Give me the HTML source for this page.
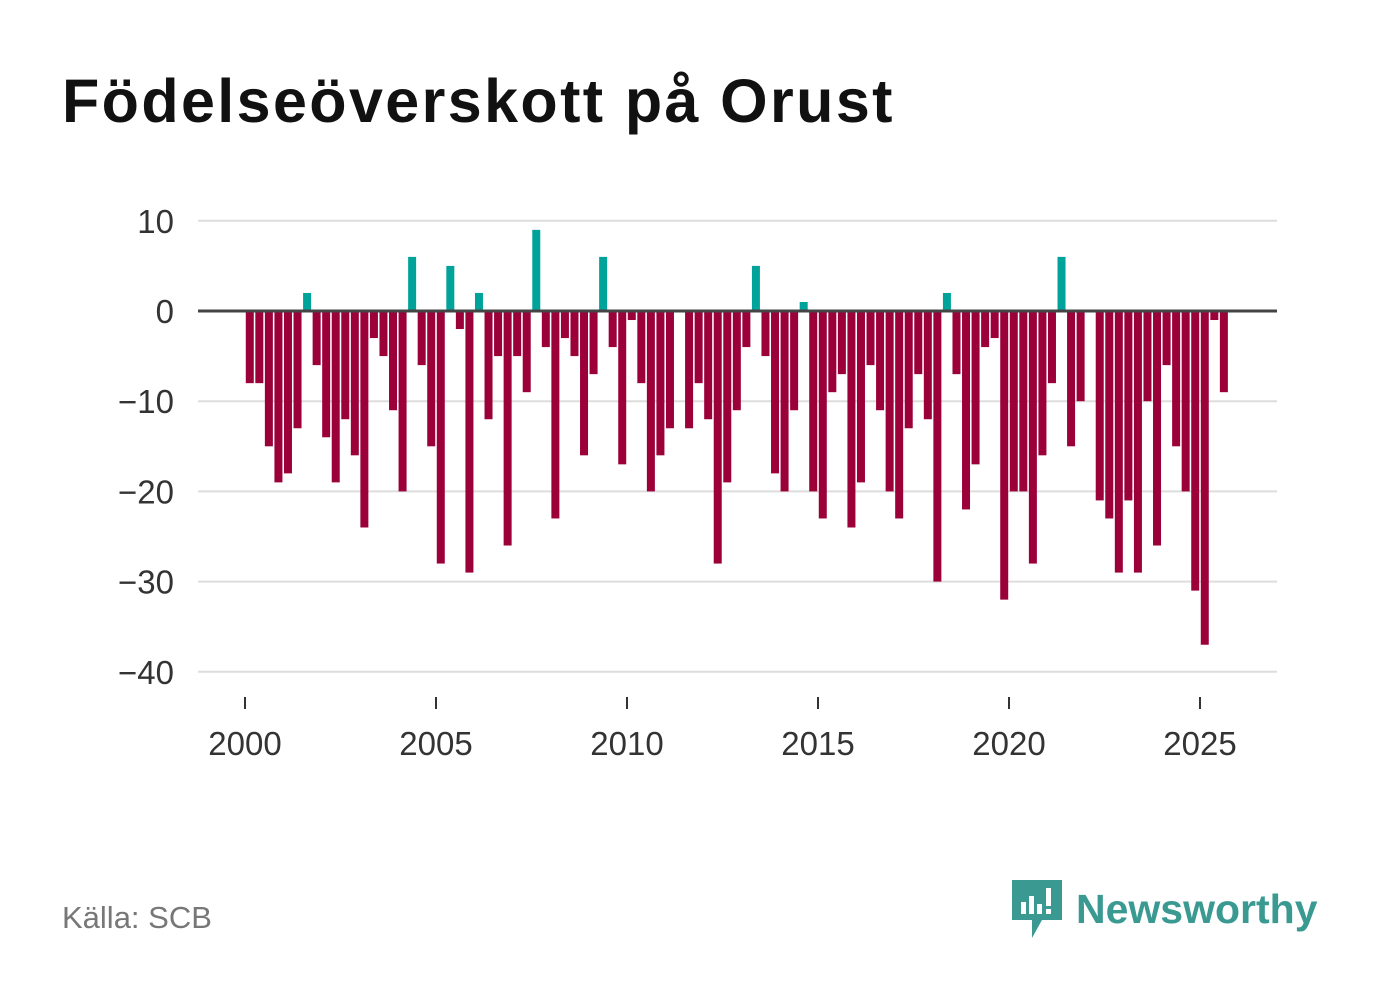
<!DOCTYPE html>
<html><head><meta charset="utf-8">
<style>
body{margin:0;background:#fff;font-family:"Liberation Sans","DejaVu Sans",sans-serif;}
#wrap{position:relative;width:1382px;height:999px;overflow:hidden;}
h1{position:absolute;left:62px;top:66px;margin:0;font-size:61px;font-weight:bold;color:#111;letter-spacing:2.4px;}
.src{position:absolute;left:62px;top:900px;font-size:31px;color:#777;}
.logo{position:absolute;left:1012px;top:880px;display:flex;align-items:center;}
.logo span{font-size:41px;font-weight:bold;color:#3a9a92;margin-left:14px;}
</style></head><body>
<div id="wrap">
<h1>Födelseöverskott på Orust</h1>
<svg id="chart" width="1382" height="999" style="position:absolute;left:0;top:0"></svg>
<div class="src">Källa: SCB</div>
<div class="logo">
<svg width="50" height="58" viewBox="0 0 50 58"><path d="M0 0H50V40H30L20 58V40H0Z" fill="#3a9a92"/><rect x="9" y="22" width="5" height="12" fill="#fff"/><rect x="17" y="16" width="5" height="18" fill="#fff"/><rect x="25" y="24" width="5" height="10" fill="#fff"/><rect x="34" y="8" width="5" height="18" fill="#fff"/><rect x="34" y="29" width="5" height="5" fill="#fff"/></svg>
<span>Newsworthy</span></div>
</div>
<script>
const values=[-8,-8,-15,-19,-18,-13,2,-6,-14,-19,-12,-16,-24,-3,-5,-11,-20,6,-6,-15,-28,5,-2,-29,2,-12,-5,-26,-5,-9,9,-4,-23,-3,-5,-16,-7,6,-4,-17,-1,-8,-20,-16,-13,0,-13,-8,-12,-28,-19,-11,-4,5,-5,-18,-20,-11,1,-20,-23,-9,-7,-24,-19,-6,-11,-20,-23,-13,-7,-12,-30,2,-7,-22,-17,-4,-3,-32,-20,-20,-28,-16,-8,6,-15,-10,0,-21,-23,-29,-21,-29,-10,-26,-6,-15,-20,-31,-37,-1,-9];
const startYear=2000;
const yTicks=[10,0,-10,-20,-30,-40];
const xTicks=[2000,2005,2010,2015,2020,2025];
const NS="http://www.w3.org/2000/svg";
const svg=document.getElementById('chart');
function xs(t){return 245+(t-2000)*38.2;}
function ys(v){return 311-v*9.02;}
function mk(tag,attrs){const e=document.createElementNS(NS,tag);for(const k in attrs)e.setAttribute(k,attrs[k]);svg.appendChild(e);return e;}
yTicks.forEach(v=>{
 if(v!==0){const l=mk('line',{x1:198,x2:1277,y1:ys(v),y2:ys(v),stroke:'#ddd','stroke-width':2});
 
 }
 const t=mk('text',{x:174,y:ys(v)+12,'text-anchor':'end','font-size':33,fill:'#333','font-family':'Liberation Sans, DejaVu Sans, sans-serif'});
 t.textContent=v<0?'\u2212'+(-v):String(v);
 
 
});
values.forEach((v,i)=>{
 const t=startYear+(i+0.5)/4;
 const y0=ys(0),y1=ys(v);
 const r=mk('rect',{x:xs(t)-4,y:Math.min(y0,y1),width:8,height:Math.abs(y1-y0),fill:v>=0?'#00a39a':'#9b0039'});
 
 
});
const z=mk('line',{x1:198,x2:1277,y1:ys(0),y2:ys(0),stroke:'#444','stroke-width':3});


xTicks.forEach(yr=>{
 const l=mk('line',{x1:xs(yr),x2:xs(yr),y1:697,y2:709,stroke:'#333','stroke-width':2});
 
 
 const t=mk('text',{x:xs(yr),y:755,'text-anchor':'middle','font-size':33,fill:'#333','font-family':'Liberation Sans, DejaVu Sans, sans-serif'});
 t.textContent=yr;
 
 
});
</script>
</body></html>
